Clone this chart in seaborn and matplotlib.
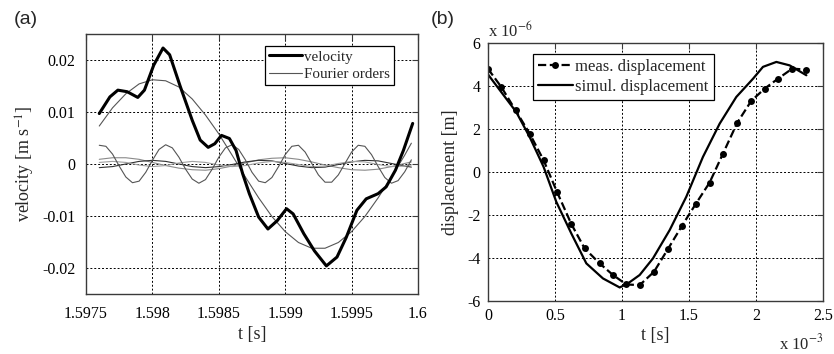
import numpy as np
import matplotlib
matplotlib.use("Agg")
import matplotlib.pyplot as plt
from matplotlib.lines import Line2D
import seaborn as sns

# ---------------- panel (a): velocity and its Fourier orders ----------------
t_vel = [1.59760, 1.59768, 1.59774, 1.59781, 1.59789, 1.59794, 1.59801, 1.59808,
         1.59813, 1.59821, 1.59830, 1.59836, 1.59842, 1.59847, 1.59852, 1.59858,
         1.59863, 1.59868, 1.59873, 1.59880, 1.59887, 1.59894, 1.59901, 1.59906,
         1.59914, 1.59922, 1.59931, 1.59939, 1.59946, 1.59954, 1.59961, 1.59970,
         1.59976, 1.59983, 1.59989, 1.59996]
velocity = [0.0097, 0.0129, 0.0142, 0.0139, 0.0128, 0.0142, 0.0190, 0.0223,
            0.0210, 0.0149, 0.0084, 0.0046, 0.0032, 0.0039, 0.0055, 0.0049,
            0.0026, -0.0019, -0.0057, -0.0102, -0.0125, -0.0109, -0.0086, -0.0096,
            -0.0134, -0.0167, -0.0196, -0.0179, -0.0141, -0.0089, -0.0067, -0.0057,
            -0.0044, -0.0012, 0.0026, 0.0078]

t_low = [1.5976, 1.5977, 1.5978, 1.5979, 1.5980, 1.5981, 1.5982, 1.5983, 1.5984,
         1.5985, 1.5986, 1.5987, 1.5988, 1.5989, 1.5990, 1.5991, 1.5992, 1.5993,
         1.5994, 1.5995, 1.5996, 1.5997, 1.5998, 1.5999, 1.59995]
order1 = [0.0073, 0.0108, 0.0135, 0.0154, 0.0162, 0.0160, 0.0148, 0.0125, 0.0094,
          0.0058, 0.0017, -0.0025, -0.0065, -0.0101, -0.0130, -0.0151, -0.0162, -0.0162,
          -0.0151, -0.0130, -0.0101, -0.0065, -0.0025, 0.0017, 0.0040]
order2 = [0.0009, 0.0012, 0.0012, 0.0009, 0.0003, -0.0003, -0.0008, -0.0011, -0.0012,
          -0.0009, -0.0004, 0.0002, 0.0008, 0.0011, 0.0012, 0.0009, 0.0004, -0.0002,
          -0.0007, -0.0011, -0.0012, -0.0010, -0.0005, 0.0001, 0.0004]
order3 = [-0.0007, -0.0005, 0.0000, 0.0005, 0.0007, 0.0005, 0.0000, -0.0005, -0.0007,
          -0.0005, -0.0001, 0.0004, 0.0007, 0.0006, 0.0001, -0.0004, -0.0007, -0.0006,
          -0.0001, 0.0004, 0.0007, 0.0006, 0.0001, -0.0004, -0.0006]
order4 = [0.0003, 0.0005, 0.0003, -0.0002, -0.0005, -0.0003, 0.0002, 0.0005, 0.0003,
          -0.0002, -0.0005, -0.0003, 0.0002, 0.0005, 0.0003, -0.0001, -0.0005, -0.0004,
          0.0001, 0.0005, 0.0004, -0.0001, -0.0005, -0.0004, -0.0002]

t_high = [1.59760, 1.59765, 1.59770, 1.59775, 1.59780, 1.59785, 1.59790, 1.59795,
          1.59800, 1.59805, 1.59810, 1.59815, 1.59820, 1.59825, 1.59830, 1.59835,
          1.59840, 1.59845, 1.59850, 1.59855, 1.59860, 1.59865, 1.59870, 1.59875,
          1.59880, 1.59885, 1.59890, 1.59895, 1.59900, 1.59905, 1.59910, 1.59915,
          1.59920, 1.59925, 1.59930, 1.59935, 1.59940, 1.59945, 1.59950, 1.59955,
          1.59960, 1.59965, 1.59970, 1.59975, 1.59980, 1.59985, 1.59990, 1.59995]
order5 = [0.0036, 0.0034, 0.0019, -0.0004, -0.0025, -0.0036, -0.0033, -0.0016,
          0.0007, 0.0028, 0.0037, 0.0031, 0.0013, -0.0010, -0.0029, -0.0037,
          -0.0030, -0.0010, 0.0013, 0.0031, 0.0037, 0.0028, 0.0008, -0.0016,
          -0.0033, -0.0036, -0.0026, -0.0005, 0.0018, 0.0034, 0.0036, 0.0023,
          0.0001, -0.0021, -0.0035, -0.0035, -0.0021, 0.0001, 0.0023, 0.0036,
          0.0034, 0.0018, -0.0005, -0.0026, -0.0037, -0.0032, -0.0015, 0.0008]

a_xticks = [1.5975, 1.598, 1.5985, 1.599, 1.5995, 1.6]
a_xticklabels = ["1.5975", "1.598", "1.5985", "1.599", "1.5995", "1.6"]
a_yticks = [-0.02, -0.01, 0, 0.01, 0.02]
a_yticklabels = ["-0.02", "-0.01", "0", "0.01", "0.02"]

# ---------------- panel (b): measured vs simulated displacement ----------------
t_meas = [0.000, 0.100, 0.206, 0.311, 0.415, 0.517, 0.622, 0.721, 0.833, 0.933,
          1.032, 1.132, 1.239, 1.343, 1.448, 1.550, 1.654, 1.754, 1.861, 1.965,
          2.065, 2.164, 2.271, 2.376]
disp_meas = [4.80, 3.95, 2.87, 1.79, 0.55, -0.95, -2.42, -3.55, -4.25, -4.79,
             -5.23, -5.26, -4.64, -3.58, -2.50, -1.49, -0.49, 0.86, 2.30, 3.31,
             3.88, 4.34, 4.81, 4.76]
t_sim = [0.000, 0.211, 0.311, 0.415, 0.510, 0.622, 0.734, 0.858, 0.983, 1.045,
         1.132, 1.231, 1.356, 1.480, 1.604, 1.729, 1.853, 1.978, 2.052, 2.152,
         2.251, 2.376]
disp_sim = [4.54, 2.79, 1.63, 0.24, -1.39, -2.86, -4.25, -4.95, -5.37, -5.18,
            -4.79, -4.02, -2.70, -1.15, 0.70, 2.25, 3.49, 4.34, 4.89, 5.12,
            4.96, 4.50]

b_xticks = [0, 0.5, 1, 1.5, 2, 2.5]
b_xticklabels = ["0", "0.5", "1", "1.5", "2", "2.5"]
b_yticks = [-6, -4, -2, 0, 2, 4, 6]
b_yticklabels = ["-6", "-4", "-2", "0", "2", "4", "6"]

# ---------------- styling ----------------
sns.set_style("white")
SERIF = ["Liberation Serif", "DejaVu Serif"]
plt.rcParams["font.family"] = SERIF
plt.rcParams["mathtext.fontset"] = "stix"

fig = plt.figure(figsize=(8.34, 3.54), dpi=100)
ax_a = fig.add_axes([0.1031, 0.1695, 0.3981, 0.7345])
ax_b = fig.add_axes([0.5851, 0.1497, 0.4017, 0.7288])

grid_kw = dict(color="black", linestyle=(0, (2, 2)), linewidth=0.7)
tick_fs = 11.5


def style_axes(ax, xticks, xlabels, yticks, ylabels, xpad, ypad):
    ax.set_xticks(xticks)
    ax.set_xticklabels(xlabels, fontfamily=SERIF, fontsize=tick_fs)
    ax.set_yticks(yticks)
    ax.set_yticklabels(ylabels, fontfamily=SERIF, fontsize=tick_fs)
    for s in ax.spines.values():
        s.set_color("#3a3a3a")
        s.set_linewidth(1.0)
    ax.grid(True, **grid_kw)
    ax.set_axisbelow(True)
    ax.tick_params(direction="in", length=4, width=0.8, colors="#3a3a3a",
                   labelcolor="black", top=True, right=True)
    ax.tick_params(axis="x", pad=xpad)
    ax.tick_params(axis="y", pad=ypad)


# panel (a)
thin_colors = ["#555555", "#8a8a8a", "#303030", "#a0a0a0"]
for vals, col in zip([order1, order2, order3, order4], thin_colors):
    sns.lineplot(x=t_low, y=vals, ax=ax_a, color=col, linewidth=0.8,
                 estimator=None, sort=False)
sns.lineplot(x=t_high, y=order5, ax=ax_a, color="#555555", linewidth=0.8,
             estimator=None, sort=False)
sns.lineplot(x=t_vel, y=velocity, ax=ax_a, color="black", linewidth=2.2,
             estimator=None, sort=False)

ax_a.set_xlim(1.5975, 1.6)
ax_a.set_ylim(-0.025, 0.025)
style_axes(ax_a, a_xticks, a_xticklabels, a_yticks, a_yticklabels, 8.5, 7.5)
ax_a.set_xlabel("t [s]", fontsize=13, labelpad=3, fontfamily=SERIF)
ax_a.set_ylabel("velocity [m s$^{-1}$]", fontsize=13, labelpad=4, fontfamily=SERIF)
leg_a = ax_a.legend(
    handles=[Line2D([], [], color="black", linewidth=2.2),
             Line2D([], [], color="#555555", linewidth=0.8)],
    labels=["velocity", "Fourier orders"],
    loc="upper right", bbox_to_anchor=(0.928, 0.955),
    prop={"family": SERIF, "size": 10.8},
    frameon=True, fancybox=False, edgecolor="black", framealpha=1,
    handlelength=2.2, handletextpad=0.1, borderpad=0.3, labelspacing=0.25,
    borderaxespad=0.0)
leg_a.get_frame().set_linewidth(0.9)

# panel (b)
sns.lineplot(x=t_meas, y=disp_meas, ax=ax_b, color="black", linewidth=1.6,
             linestyle="--", marker="o", markersize=5, markeredgewidth=0,
             estimator=None, sort=False)
sns.lineplot(x=t_sim, y=disp_sim, ax=ax_b, color="black", linewidth=1.6,
             estimator=None, sort=False)

ax_b.set_xlim(0, 2.5)
ax_b.set_ylim(-6, 6)
style_axes(ax_b, b_xticks, b_xticklabels, b_yticks, b_yticklabels, 5, 5.5)
ax_b.set_xlabel("t [s]", fontsize=13, labelpad=2, fontfamily=SERIF)
ax_b.set_ylabel("displacement [m]", fontsize=13, labelpad=6, fontfamily=SERIF)
leg_b = ax_b.legend(
    handles=[Line2D([], [], color="black", linewidth=1.6, linestyle="--",
                    marker="o", markersize=5, markeredgewidth=0),
             Line2D([], [], color="black", linewidth=1.6)],
    labels=["meas. displacement", "simul. displacement"],
    loc="upper left", bbox_to_anchor=(0.134, 0.957),
    prop={"family": SERIF, "size": 12},
    frameon=True, fancybox=False, edgecolor="black", framealpha=1,
    handlelength=2.1, handletextpad=0.15, borderpad=0.3, labelspacing=0.25,
    borderaxespad=0.0)
leg_b.get_frame().set_linewidth(0.9)

# axis multipliers
ax_b.text(0.0, 1.01, r"x 10$^{-6}$", transform=ax_b.transAxes, fontsize=12,
          ha="left", va="bottom", fontfamily=SERIF)
ax_b.text(1.0, -0.125, r"x 10$^{-3}$", transform=ax_b.transAxes, fontsize=12,
          ha="right", va="top", fontfamily=SERIF)

# panel letters
fig.text(0.016, 0.945, "(a)", fontsize=14, family="Liberation Sans",
         ha="left", va="center")
fig.text(0.516, 0.945, "(b)", fontsize=14, family="Liberation Sans",
         ha="left", va="center")

fig.savefig("out.png", dpi=100)
